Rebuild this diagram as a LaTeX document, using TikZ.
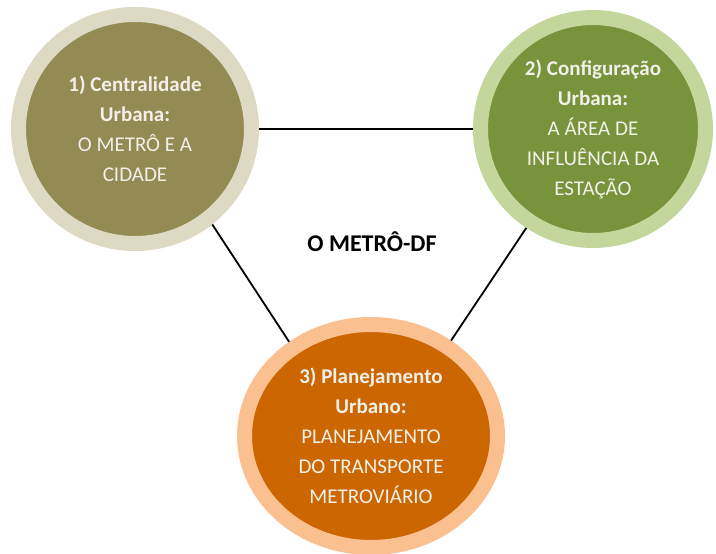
\documentclass[tikz,border=0pt]{standalone}
\usepackage{fontspec}
\setmainfont{Carlito}
\usepackage{xcolor}
\usepackage{tikz}
\usetikzlibrary{shapes.geometric}
\definecolor{olivefill}{RGB}{148,138,84}
\definecolor{olivering}{RGB}{221,217,195}
\definecolor{greenfill}{RGB}{119,147,60}
\definecolor{greenring}{RGB}{195,214,155}
\definecolor{orangefill}{RGB}{204,102,0}
\definecolor{orangering}{RGB}{250,192,144}
\definecolor{lighttext}{RGB}{242,240,232}

\tikzset{
	topic/.style={ellipse, line width=15pt, outer sep=7.5pt, inner sep=0pt, align=center,
		text=lighttext, font=\fontsize{21}{30}\selectfont},
	link/.style={line width=1.8pt, black}
}

\begin{document}
\begin{tikzpicture}[x=1pt,y=-1pt]
			\useasboundingbox (0,0) rectangle (716,554);
			\node[topic, draw=olivering, fill=olivefill, minimum width=233pt, minimum height=229pt] (centralidade) at (135,129)
				{\textbf{1) Centralidade}\\\textbf{Urbana:}\\O METRÔ E A\\CIDADE};
			\node[topic, draw=greenring, fill=greenfill, minimum width=225pt, minimum height=223pt] (configuracao) at (593,129)
				{\textbf{2) Configuração}\\\textbf{Urbana:}\\A ÁREA DE\\INFLUÊNCIA DA\\ESTAÇÃO};
			\node[topic, draw=orangering, fill=orangefill, minimum width=253pt, minimum height=223pt] (planejamento) at (371,436)
				{\textbf{3) Planejamento}\\\textbf{Urbano:}\\PLANEJAMENTO\\DO TRANSPORTE\\METROVIÁRIO};
			\node[font=\fontsize{24}{28}\selectfont\bfseries] (metro) at (372,242) {O METRÔ-DF};
			\draw[link] (centralidade.east) -- (configuracao.west);
			\draw[link] (centralidade.-51) -- (planejamento.131);
			\draw[link] (configuracao.-124) -- (planejamento.50);
		\end{tikzpicture}
\end{document}
